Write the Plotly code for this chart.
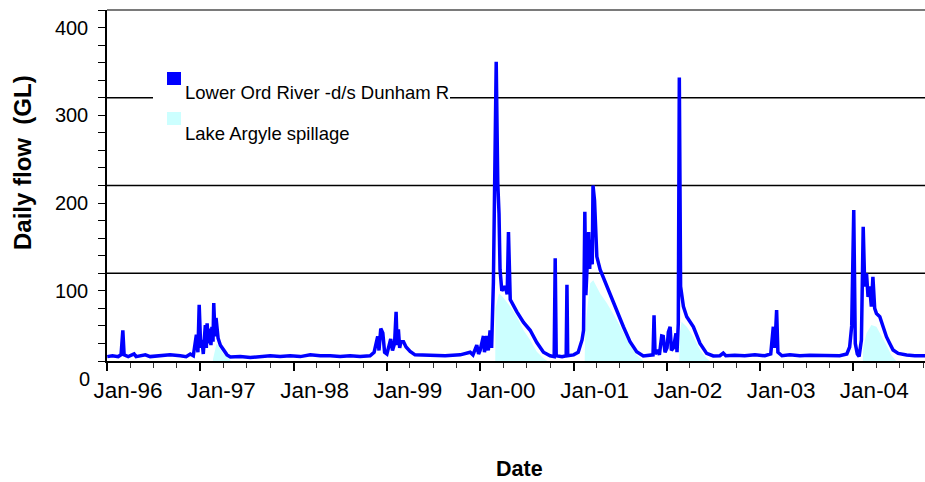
import plotly.graph_objects as go

# ---------------- data ----------------
flow_dates = [
    "1996-01-02", "1996-01-22", "1996-02-14", "1996-02-25", "1996-03-03", "1996-03-08", "1996-03-24",
    "1996-04-16", "1996-04-24", "1996-05-30", "1996-06-18", "1996-07-27", "1996-09-04", "1996-10-14",
    "1996-11-06", "1996-11-22", "1996-12-04", "1996-12-16", "1996-12-22", "1996-12-27",
    "1997-01-02", "1997-01-07", "1997-01-12", "1997-01-20", "1997-01-24", "1997-01-27", "1997-02-01",
    "1997-02-06", "1997-02-11", "1997-02-15", "1997-02-19", "1997-02-22", "1997-02-27", "1997-03-03",
    "1997-03-11", "1997-03-20", "1997-04-02", "1997-04-15", "1997-04-28", "1997-06-06", "1997-07-15",
    "1997-08-23", "1997-10-01", "1997-11-09", "1997-12-18",
    "1998-01-27", "1998-03-07", "1998-04-15", "1998-05-24", "1998-07-02", "1998-08-10", "1998-09-18",
    "1998-10-27", "1998-11-12", "1998-11-26", "1998-12-01", "1998-12-08", "1998-12-16", "1998-12-23",
    "1999-01-01", "1999-01-08", "1999-01-16", "1999-01-23", "1999-01-31", "1999-02-06", "1999-02-10",
    "1999-02-15", "1999-02-20", "1999-02-25", "1999-03-07", "1999-03-17", "1999-04-02", "1999-04-21",
    "1999-06-19", "1999-08-17", "1999-10-15", "1999-11-23", "1999-12-04", "1999-12-19", "1999-12-26",
    "2000-01-01", "2000-01-14", "2000-01-18", "2000-01-27", "2000-02-02", "2000-02-09", "2000-02-15",
    "2000-02-22", "2000-02-26", "2000-03-04", "2000-03-10", "2000-03-15", "2000-03-19", "2000-03-26",
    "2000-04-08", "2000-04-16", "2000-04-21", "2000-04-28", "2000-05-24", "2000-06-19", "2000-07-15",
    "2000-08-10", "2000-09-05", "2000-10-01", "2000-10-17", "2000-10-21", "2000-10-25", "2000-11-17",
    "2000-12-03", "2000-12-06", "2000-12-09",
    "2001-01-01", "2001-01-19", "2001-02-03", "2001-02-09", "2001-02-14", "2001-02-18", "2001-02-21",
    "2001-03-01", "2001-03-05", "2001-03-09", "2001-03-15", "2001-03-18", "2001-03-24", "2001-04-02",
    "2001-04-15", "2001-05-11", "2001-06-19", "2001-07-15", "2001-08-10", "2001-09-05", "2001-10-01",
    "2001-10-27", "2001-11-08", "2001-11-12", "2001-11-16", "2001-11-26", "2001-12-03", "2001-12-12",
    "2001-12-18", "2001-12-25",
    "2002-01-02", "2002-01-07", "2002-01-14", "2002-01-19", "2002-01-27", "2002-02-06", "2002-02-10",
    "2002-02-15", "2002-02-19", "2002-02-24", "2002-03-07", "2002-03-20", "2002-04-15", "2002-05-11",
    "2002-06-06", "2002-07-02", "2002-07-28", "2002-08-10", "2002-08-20", "2002-09-24", "2002-11-02",
    "2002-12-12",
    "2003-01-20", "2003-02-12", "2003-02-19", "2003-02-22", "2003-02-28", "2003-03-07", "2003-03-12",
    "2003-03-28", "2003-04-28", "2003-06-06", "2003-07-15", "2003-08-23", "2003-10-01", "2003-11-09",
    "2003-12-07", "2003-12-18", "2003-12-26",
    "2004-01-03", "2004-01-09", "2004-01-17", "2004-01-24", "2004-02-02", "2004-02-09", "2004-02-15",
    "2004-02-22", "2004-02-28", "2004-03-05", "2004-03-12", "2004-03-18", "2004-03-25", "2004-04-01",
    "2004-04-14", "2004-04-27", "2004-05-10", "2004-05-23", "2004-06-05", "2004-06-25", "2004-07-28",
    "2004-08-29", "2004-10-08",
]
flow_values = [
    25, 26, 25, 27, 55, 27, 25,
    28, 25, 27, 25, 26, 27, 26,
    25, 28, 26, 50, 30, 84,
    35, 44, 28, 61, 35, 63, 40,
    57, 38, 59, 42, 86, 48, 69,
    46, 38, 32.5, 27, 24.6, 25, 24,
    25.5, 26, 25, 26,
    25, 27, 26, 26, 25, 26, 25,
    26, 30, 48, 32, 57, 52, 30,
    28, 35, 45, 32, 40, 76, 38,
    56, 35, 42, 42, 36, 31, 27,
    26, 26, 27, 30, 27, 38, 28,
    32, 48.5, 30, 48.5, 32, 55, 35,
    110, 224, 361, 224, 188, 124, 100,
    105, 96, 167, 90, 76, 64, 55,
    41, 30, 26, 25, 137, 26, 25,
    26, 107, 26,
    27, 30, 44, 55, 190, 95, 120,
    167, 125, 158, 130, 220, 203, 139,
    124, 105, 78, 59, 42, 30.6, 25.7,
    26, 27, 72, 28, 32.5, 27, 48.5,
    48, 30,
    35, 53, 59, 32, 35, 51.5, 30,
    63, 343, 105, 82, 70.5, 59, 40,
    28.7, 25.7, 26, 29, 26, 26.5, 26,
    27,
    26, 28, 55, 59, 35, 78, 30,
    26, 27, 26, 26.5, 26, 26.5, 26,
    28, 36, 60,
    192, 40, 28, 25, 44, 173, 105,
    120, 93, 105, 82, 116, 80, 74,
    70.5, 59, 47.7, 40, 32.5, 28.7, 26.8,
    26, 26,
]

spill_dates = [
    "1997-02-16", "1997-02-19", "1997-03-05", "1997-03-20", "1997-04-02", "1997-04-28", "1997-05-02",
    "2000-02-29", "2000-03-01", "2000-03-15", "2000-03-30", "2000-04-28", "2000-05-24", "2000-06-19",
    "2000-07-15", "2000-08-10", "2000-09-05", "2000-09-20", "2000-09-21",
    "2001-02-12", "2001-02-16", "2001-03-07", "2001-03-19", "2001-04-15", "2001-05-11", "2001-06-19",
    "2001-07-15", "2001-08-10", "2001-09-05", "2001-10-01", "2001-10-02",
    "2002-02-18", "2002-02-20", "2002-02-28", "2002-03-20", "2002-04-15", "2002-05-11", "2002-06-06",
    "2002-06-19", "2002-06-20",
    "2004-02-06", "2004-02-09", "2004-02-22", "2004-03-12", "2004-04-01", "2004-04-20", "2004-05-10",
    "2004-05-29", "2004-06-17", "2004-06-18",
]
spill_values = [
    0, 22, 40, 34, 28, 21, 0,
    0, 80, 97, 93, 82, 70.5, 55,
    44, 30.6, 23, 20, 0,
    0, 60, 108.5, 112, 97, 86, 66.7,
    51.5, 38, 26.8, 20, 0,
    0, 50, 64.8, 59, 47.7, 32.5, 23,
    20, 0,
    0, 35, 51.5, 61, 59, 49.6, 38,
    26.8, 20, 0,
]

series_names = ["Lower Ord River -d/s Dunham R", "Lake Argyle spillage"]
year_ticks = ["1996-01-01", "1997-01-01", "1998-01-01", "1999-01-01", "2000-01-01",
              "2001-01-01", "2002-01-01", "2003-01-01", "2004-01-01"]
year_labels = ["Jan-96", "Jan-97", "Jan-98", "Jan-99", "Jan-00",
               "Jan-01", "Jan-02", "Jan-03", "Jan-04"]
y_tick_values = [100, 200, 300, 400]
y_tick_labels = ["100", "200", "300", "400"]
y_zero_label = "0"
y_grid_values = [120, 220, 320]
x_range = ["1996-01-01", "2004-10-08"]
y_range = [20, 420]

# ---------------- styling ----------------
FONT = "Arial, 'Liberation Sans', sans-serif"
BLUE = "#0000FF"
CYAN = "#CCFFFF"
W, H = 925, 482
ML, MR, MT, MB = 107, 0, 10, 121
PW, PH = W - ML - MR, H - MT - MB


def px_x(px):
    return (px - ML) / PW


def px_y(py):
    return (H - MB - py) / PH


fig = go.Figure()
fig.add_trace(go.Scatter(x=spill_dates, y=spill_values, mode="lines", fill="tozeroy",
                         fillcolor=CYAN, line=dict(width=0, color=CYAN),
                         name=series_names[1], showlegend=False))
fig.add_trace(go.Scatter(x=flow_dates, y=flow_values, mode="lines",
                         line=dict(color=BLUE, width=3.5),
                         name=series_names[0], showlegend=False))

shapes = []
for gv in y_grid_values:
    shapes.append(dict(type="line", xref="x domain", x0=0, x1=1, yref="y", y0=gv, y1=gv,
                       line=dict(color="black", width=1.3), layer="below"))
# plot-area top border
shapes.append(dict(type="line", xref="x domain", x0=0, x1=1, yref="y domain", y0=1, y1=1,
                   line=dict(color="#7a7a7a", width=2), layer="above"))
# legend box (white background hiding the gridline) and swatches
shapes.append(dict(type="rect", xref="paper", yref="paper",
                   x0=px_x(153), x1=px_x(450), y0=px_y(150), y1=px_y(62),
                   fillcolor="white", line=dict(width=0), layer="above"))
shapes.append(dict(type="rect", xref="paper", yref="paper",
                   x0=px_x(167), x1=px_x(181), y0=px_y(85), y1=px_y(72),
                   fillcolor=BLUE, line=dict(width=0), layer="above"))
shapes.append(dict(type="rect", xref="paper", yref="paper",
                   x0=px_x(167), x1=px_x(181), y0=px_y(125), y1=px_y(112),
                   fillcolor=CYAN, line=dict(width=0), layer="above"))

annotations = [
    dict(text=series_names[0], xref="paper", yref="paper", x=px_x(183), y=px_y(93),
         xanchor="left", yanchor="middle", showarrow=False,
         font=dict(family=FONT, size=18.5, color="black")),
    dict(text=series_names[1], xref="paper", yref="paper", x=px_x(183), y=px_y(133),
         xanchor="left", yanchor="middle", showarrow=False,
         font=dict(family=FONT, size=18.5, color="black")),
    dict(text=y_zero_label, xref="paper", yref="y domain", x=px_x(92),
         y=(0 - y_range[0]) / (y_range[1] - y_range[0]),
         xanchor="right", yanchor="middle", showarrow=False,
         font=dict(family=FONT, size=20, color="black")),
    dict(text="<b>Daily flow  (GL)</b>", xref="paper", yref="paper", x=px_x(22), y=px_y(163),
         xanchor="center", yanchor="middle", textangle=-90, showarrow=False,
         font=dict(family=FONT, size=24, color="black")),
    dict(text="<b>Date</b>", xref="paper", yref="paper", x=px_x(519), y=px_y(469),
         xanchor="center", yanchor="middle", showarrow=False,
         font=dict(family=FONT, size=21.5, color="black")),
]

fig.update_layout(
    width=W, height=H,
    margin=dict(l=ML, r=MR, t=MT, b=MB, pad=0),
    paper_bgcolor="white", plot_bgcolor="white",
    showlegend=False,
    shapes=shapes, annotations=annotations,
    font=dict(family=FONT, color="black"),
    xaxis=dict(
        type="date", range=x_range, tickmode="array", tickvals=year_ticks, ticktext=year_labels,
        ticks="outside", ticklen=8, tickwidth=1.5, tickcolor="black",
        showline=True, linecolor="black", linewidth=1.5, showgrid=False, zeroline=False,
        tickfont=dict(family=FONT, size=22.5, color="black"),
        ticklabelshift=21, ticklabelstandoff=0,
        minor=dict(dtick="M3", tick0="1996-01-01", ticks="outside", ticklen=5, tickwidth=1,
                   tickcolor="#333333", showgrid=False),
        fixedrange=True,
    ),
    yaxis=dict(
        range=y_range, tickmode="array", tickvals=y_tick_values, ticktext=y_tick_labels,
        ticks="outside", ticklen=7, tickwidth=1, tickcolor="black",
        showline=True, linecolor="black", linewidth=1.5, showgrid=False, zeroline=False,
        tickfont=dict(family=FONT, size=20, color="black"),
        ticklabelstandoff=6,
        minor=dict(tick0=20, dtick=20, ticks="outside", ticklen=7, tickwidth=1,
                   tickcolor="black", showgrid=False),
        fixedrange=True,
    ),
)

fig.write_html("out.html", config={"displayModeBar": False},
               post_script="document.body.style.margin='0px';document.body.style.overflow='hidden';")
